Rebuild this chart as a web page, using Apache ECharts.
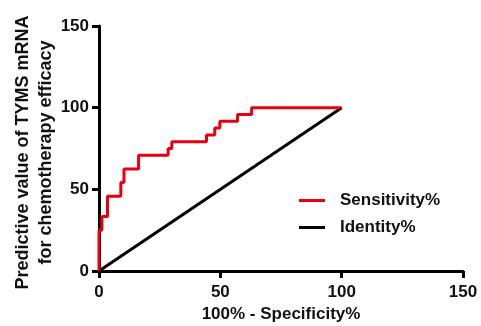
<!DOCTYPE html>
<html>
<head>
<meta charset="utf-8">
<script src="https://cdn.jsdelivr.net/npm/echarts@6/dist/echarts.min.js"></script>
<style>html,body{margin:0;padding:0;background:#fff}#c{width:481px;height:326px}</style>
</head>
<body>
<div id="c"></div>
<script>
// ROC curve corner points (step: horizontal then vertical)
const rocFpr = [0, 0, 1.2, 3.5, 9.0, 10.3, 16.3, 28.5, 30.0, 44.3, 47.7, 49.8, 57.1, 62.9, 100];
const rocTpr = [0, 25.0, 33.3, 45.8, 54.2, 62.5, 70.8, 75.0, 79.2, 83.3, 87.5, 91.7, 95.8, 100, 100];
const identityX = [0, 100];
const identityY = [0, 100];
const xTicks = [0, 50, 100, 150];
const yTicks = [0, 50, 100, 150];
const seriesNames = ['Sensitivity%', 'Identity%'];
const xTitle = '100% - Specificity%';
const yTitle = 'Predictive value of TYMS mRNA\nfor chemotherapy efficacy';

const font = 'Liberation Sans, Arial, sans-serif';
const chart = echarts.init(document.getElementById('c'), null, {renderer: 'canvas'});
const axisCommon = {
  min: xTicks[0], max: xTicks[xTicks.length - 1], interval: xTicks[1] - xTicks[0],
  axisLine: {show: true, onZero: false, lineStyle: {color: '#000', width: 3}},
  axisTick: {show: true, length: 7, lineStyle: {color: '#000', width: 3}},
  splitLine: {show: false},
  axisLabel: {color: '#111', fontSize: 17, fontWeight: 'bold', fontFamily: font}
};
chart.setOption({
  animation: false,
  grid: {left: 99, right: 18, top: 26, bottom: 55, containLabel: false, outerBoundsMode: 'none'},
  legend: {
    orient: 'vertical', left: 294, top: 187, itemWidth: 26, itemHeight: 3, itemGap: 10,
    icon: 'rect',
    textStyle: {fontSize: 17, fontWeight: 'bold', fontFamily: font, color: '#111', padding: [0, 0, 0, 10]},
    data: seriesNames
  },
  xAxis: Object.assign({}, axisCommon, {
    type: 'value',
    name: xTitle, nameLocation: 'middle', nameGap: 35, nameMoveOverlap: false,
    nameTextStyle: {fontSize: 17, fontWeight: 'bold', fontFamily: font, color: '#111'},
    axisLabel: Object.assign({}, axisCommon.axisLabel, {margin: 13})
  }),
  yAxis: Object.assign({}, axisCommon, {
    type: 'value',
    min: yTicks[0], max: yTicks[yTicks.length - 1], interval: yTicks[1] - yTicks[0],
    name: yTitle, nameLocation: 'middle', nameGap: 41, nameRotate: 90, nameMoveOverlap: false,
    nameTextStyle: {fontSize: 18, fontWeight: 'bold', fontFamily: font, color: '#111', lineHeight: 23, padding: [0, 8, 0, 0]},
    axisLabel: Object.assign({}, axisCommon.axisLabel, {margin: 10})
  }),
  series: [
    {
      name: seriesNames[0], type: 'line', step: 'end', showSymbol: false, symbol: 'none',
      data: rocFpr.map((x, i) => [x, rocTpr[i]]),
      lineStyle: {color: '#e60012', width: 3}, itemStyle: {color: '#e60012'}, z: 3
    },
    {
      name: seriesNames[1], type: 'line', showSymbol: false, symbol: 'none',
      data: identityX.map((x, i) => [x, identityY[i]]),
      lineStyle: {color: '#000', width: 3}, itemStyle: {color: '#000'}, z: 2
    }
  ]
});
</script>
</body>
</html>
